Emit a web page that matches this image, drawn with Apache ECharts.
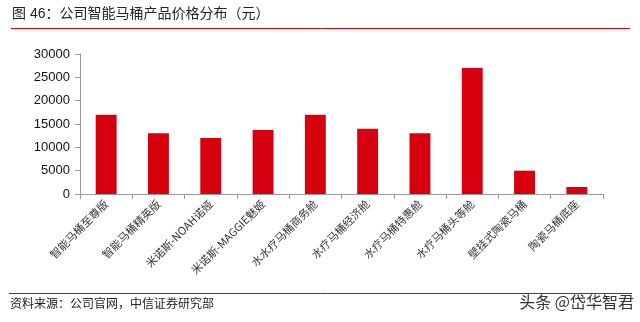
<!DOCTYPE html>
<html>
<head>
<meta charset="utf-8">
<script src="https://cdn.jsdelivr.net/npm/echarts@6/dist/echarts.min.js"></script>
<style>
  html, body { margin: 0; padding: 0; background: #fff; }
  #main { width: 640px; height: 322px; }
</style>
</head>
<body>
<div id="main"></div>
<script>
const categories = [
  "智能马桶至尊版", "智能马桶精英版", "米诺斯-NOAH诺娅", "米诺斯-MAGGIE魅姬",
  "水水疗马桶商务舱", "水疗马桶经济舱", "水疗马桶特惠舱", "水疗马桶头等舱",
  "壁挂式陶瓷马桶", "陶瓷马桶底座"
];
const prices = [16999, 12999, 11999, 13699, 16999, 13999, 12999, 26999, 4999, 1499];
const yTicks = [0, 5000, 10000, 15000, 20000, 25000, 30000];

const myChart = echarts.init(document.getElementById("main"));

const option = {
  animation: false,
  textStyle: { fontFamily: "Liberation Sans, Noto Sans CJK SC, sans-serif" },
  grid: { left: 80, right: 37, top: 54, bottom: 128 },
  graphic: [
    {
      type: "text", left: 12, top: 7,
      style: { text: "图 46：公司智能马桶产品价格分布（元）", fontSize: 14, fill: "#222",
        fontFamily: "Liberation Sans, Noto Sans CJK SC, sans-serif" }
    },
    { type: "line", shape: { x1: 11, y1: 28.5, x2: 630, y2: 28.5 }, style: { stroke: "#d7000f", lineWidth: 1 } },
    { type: "line", shape: { x1: 9, y1: 293.5, x2: 632, y2: 293.5 }, style: { stroke: "#d7000f", lineWidth: 1 } },
    {
      type: "text", left: 10, top: 297,
      style: { text: "资料来源：公司官网，中信证券研究部", fontSize: 12, fill: "#222",
        fontFamily: "Noto Sans CJK SC, sans-serif" }
    },
    {
      type: "text", right: 6, top: 294,
      style: { text: "头条 @岱华智君", fontSize: 16, fill: "#333",
        fontFamily: "Noto Sans CJK SC, sans-serif" }
    }
  ],
  xAxis: {
    type: "category",
    data: categories,
    axisLine: { lineStyle: { color: "#999" } },
    axisTick: { show: true, alignWithLabel: false, lineStyle: { color: "#999" } },
    axisLabel: { rotate: 45, fontSize: 11, color: "#333", interval: 0, margin: 8,
      fontFamily: "Noto Sans CJK SC, sans-serif" }
  },
  yAxis: {
    type: "value",
    min: yTicks[0],
    max: yTicks[yTicks.length - 1],
    interval: 5000,
    splitLine: { show: false },
    axisLine: { show: true, lineStyle: { color: "#999" } },
    axisTick: { show: true, lineStyle: { color: "#999" } },
    axisLabel: { fontSize: 13, color: "#111", margin: 10, formatter: v => String(v) }
  },
  series: [
    {
      type: "bar",
      data: prices,
      barWidth: "40%",
      itemStyle: { color: "#d7000f" }
    }
  ]
};

myChart.setOption(option);
</script>
</body>
</html>
